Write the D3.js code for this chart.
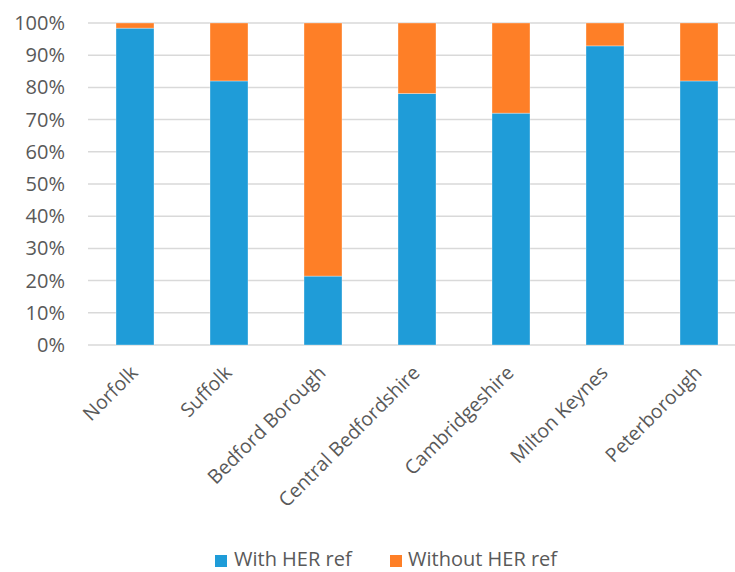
<!DOCTYPE html>
<html>
<head>
<meta charset="utf-8">
<script src="https://cdn.jsdelivr.net/npm/d3@7"></script>
<style>
  body { margin: 0; background: #fff; }
  text { font-family: "Open Sans", "Noto Sans", sans-serif; fill: #595959; }
</style>
</head>
<body>
<div id="chart"></div>
<script>
// Data
const categories = ['Norfolk', 'Suffolk', 'Bedford Borough', 'Central Bedfordshire', 'Cambridgeshire', 'Milton Keynes', 'Peterborough'];
const withRef = [98.4, 82.0, 21.4, 78.1, 72.0, 92.9, 82.0];
const withoutRef = [1.6, 18.0, 78.6, 21.9, 28.0, 7.1, 18.0];
const seriesNames = ['With HER ref', 'Without HER ref'];
const yTicks = [0, 10, 20, 30, 40, 50, 60, 70, 80, 90, 100];

const colors = ['#1F9CD8', '#FE7F27'];

const width = 735;
const height = 572;
const margin = { top: 23, right: -11, bottom: 227, left: 88 };

const svg = d3.select('#chart').append('svg')
    .attr('width', width)
    .attr('height', height);

const xScale = d3.scaleBand()
    .domain(categories)
    .range([margin.left, width - margin.right])
    .paddingInner(0.596)
    .paddingOuter(0.298);

const yScale = d3.scaleLinear()
    .domain([0, 100])
    .range([height - margin.bottom, margin.top]);

// Gridlines
svg.append('g')
    .selectAll('line')
    .data(yTicks)
    .enter().append('line')
    .attr('x1', margin.left)
    .attr('x2', width)
    .attr('y1', d => yScale(d))
    .attr('y2', d => yScale(d))
    .attr('stroke', '#D9D9D9')
    .attr('stroke-width', 1.5);

// Stacked data
const table = categories.map((c, i) => ({ cat: c, with: withRef[i], without: withoutRef[i] }));
const stack = d3.stack().keys(['with', 'without'])(table);

svg.append('g')
    .selectAll('g')
    .data(stack)
    .enter().append('g')
    .attr('fill', (d, i) => colors[i])
    .selectAll('rect')
    .data(d => d)
    .enter().append('rect')
    .attr('x', d => xScale(d.data.cat))
    .attr('y', d => yScale(d[1]))
    .attr('width', xScale.bandwidth())
    .attr('height', d => yScale(d[0]) - yScale(d[1]))
    .attr('stroke', '#fff')
    .attr('stroke-opacity', 0.4)
    .attr('stroke-width', 0.8);

// Y axis labels
const yAxis = d3.axisLeft(yScale)
    .tickValues(yTicks)
    .tickFormat(d => d + '%')
    .tickSize(0)
    .tickPadding(23);
const yg = svg.append('g')
    .attr('transform', `translate(${margin.left},0)`)
    .call(yAxis);
yg.select('.domain').remove();
yg.selectAll('text')
    .style('font-size', '20px')
    .style('font-family', '"Open Sans", sans-serif')
    .attr('fill', '#595959');

// X axis labels
const xAxis = d3.axisBottom(xScale).tickSize(0).tickPadding(0);
const xg = svg.append('g')
    .attr('transform', `translate(0,${height - margin.bottom})`)
    .call(xAxis);
xg.select('.domain').remove();
xg.selectAll('text')
    .style('font-size', '19.5px')
    .style('font-family', '"Open Sans", sans-serif')
    .attr('fill', '#595959')
    .attr('text-anchor', 'end')
    .attr('y', 0)
    .attr('dy', 0)
    .attr('transform', 'translate(4,29) rotate(-45)');

// Legend
const legendX = [215, 390];
const textX = [234, 408];
const legend = svg.append('g');
seriesNames.forEach((name, i) => {
    legend.append('rect')
        .attr('x', legendX[i])
        .attr('y', 555)
        .attr('width', 12)
        .attr('height', 12)
        .attr('fill', colors[i]);
    legend.append('text')
        .attr('x', textX[i])
        .attr('y', 566)
        .style('font-size', '20px')
        .text(name);
});
</script>
</body>
</html>
